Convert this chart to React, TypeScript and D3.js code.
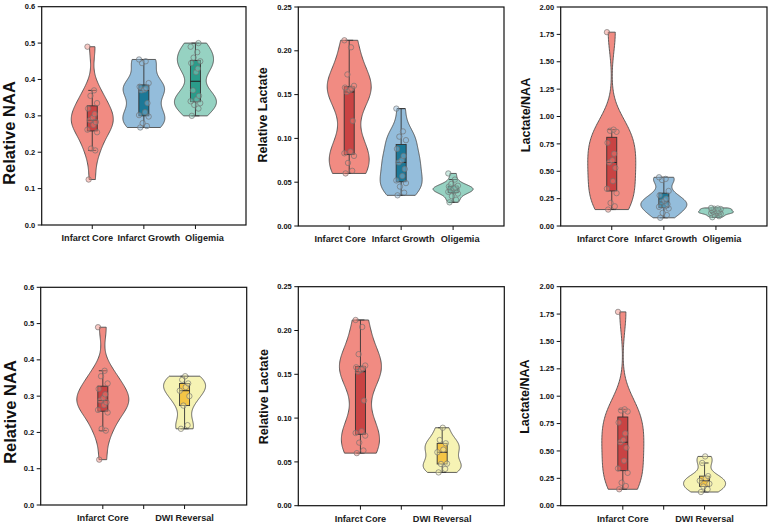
import React from 'react';
import * as d3 from 'd3';

// ---------- data ----------
const CATS_TOP = ['Infarct Core', 'Infarct Growth', 'Oligemia'];
const CATS_BOTTOM = ['Infarct Core', 'DWI Reversal'];

const NAA_CORE = [0.125, 0.205, 0.21, 0.255, 0.262, 0.275, 0.283, 0.288, 0.295, 0.305, 0.32, 0.335, 0.355, 0.37, 0.49];
const NAA_GROWTH = [0.268, 0.272, 0.28, 0.298, 0.302, 0.31, 0.335, 0.37, 0.372, 0.376, 0.38, 0.39, 0.445, 0.45, 0.455];
const NAA_OLIGEMIA = [0.3, 0.32, 0.33, 0.335, 0.34, 0.345, 0.355, 0.37, 0.42, 0.43, 0.445, 0.45, 0.46, 0.475, 0.49, 0.5];
const NAA_DWI = [0.21, 0.22, 0.274, 0.3, 0.315, 0.325, 0.335, 0.345, 0.355];

const LAC_CORE = [0.06, 0.063, 0.072, 0.08, 0.083, 0.085, 0.12, 0.153, 0.155, 0.157, 0.158, 0.16, 0.173, 0.204, 0.212];
const LAC_GROWTH = [0.035, 0.038, 0.045, 0.049, 0.052, 0.057, 0.065, 0.0726, 0.075, 0.08, 0.088, 0.098, 0.102, 0.108, 0.134];
const LAC_OLIGEMIA = [0.027, 0.03, 0.034, 0.037, 0.039, 0.04, 0.041, 0.041, 0.043, 0.044, 0.045, 0.046, 0.048, 0.053, 0.06];
const LAC_DWI = [0.038, 0.042, 0.0476, 0.048, 0.061, 0.064, 0.0712, 0.075, 0.089];

const RATIO_CORE = [0.15, 0.18, 0.21, 0.3, 0.34, 0.41, 0.53, 0.58, 0.6, 0.66, 0.76, 0.86, 0.87, 0.88, 1.77];
const RATIO_GROWTH = [0.075, 0.1, 0.12, 0.16, 0.175, 0.18, 0.2, 0.22, 0.23, 0.25, 0.28, 0.32, 0.42, 0.43, 0.445];
const RATIO_OLIGEMIA = [0.08, 0.09, 0.1, 0.112, 0.118, 0.12, 0.125, 0.13, 0.135, 0.14, 0.145, 0.155, 0.158, 0.16, 0.165];
const RATIO_DWI = [0.125, 0.15, 0.175, 0.2, 0.228, 0.25, 0.27, 0.39, 0.45];

const NAA_TICKS = [0, 0.1, 0.2, 0.3, 0.4, 0.5, 0.6];
const LAC_TICKS = [0, 0.05, 0.1, 0.15, 0.2, 0.25];
const RATIO_TICKS = [0, 0.25, 0.5, 0.75, 1.0, 1.25, 1.5, 1.75, 2.0];

// ---------- styles ----------
const COLORS: Record<string, { violin: string; box: string }> = {
  'Infarct Core': { violin: '#F0857B', box: '#C94343' },
  'Infarct Growth': { violin: '#8EB9D9', box: '#1C7897' },
  'Oligemia': { violin: '#90D0BF', box: '#2A9C8A' },
  'DWI Reversal': { violin: '#F6F2B0', box: '#F4C545' },
};
const JITTER = [-3, 2.5, -1, 4, -4, 1, 3, -2, 0.5, 2, -3.5, 4, -1.5, 1.5, -4, 2.5];
const BW_ADJUST = 0.75;
const FONT = "'Liberation Sans', Arial, Helvetica, sans-serif";

type Box = { l: number; r: number; t: number; b: number };
type PanelDef = {
  box: Box;
  cats: string[];
  series: number[][];
  halfWidths: number[];
  labelDx: number[];
  ticks: number[];
  fmt: string;
  label: string;
  labelX: number;
  labelY: number;
  labelSize: number;
  xDomain: [number, number];
  xTicks: number[];
};

function Violin({ values, cx, y, hw, color }: { values: number[]; cx: number; y: d3.ScaleLinear<number, number>; hw: number; color: { violin: string; box: string } }) {
  const sorted = [...values].sort((a, b) => a - b);
  const lo = sorted[0];
  const hi = sorted[sorted.length - 1];
  const sd = d3.deviation(sorted) as number;
  const bw = sd * Math.pow(sorted.length, -0.2) * BW_ADJUST;
  const grid = d3.range(0, 121).map((k) => lo + ((hi - lo) * k) / 120);
  const dens = grid.map((g) => d3.sum(sorted, (v) => Math.exp(-0.5 * ((g - v) / bw) ** 2)));
  const maxD = d3.max(dens) as number;
  const pts: [number, number][] = grid.map((g, i) => [g, dens[i] / maxD]);
  const area = d3
    .area<[number, number]>()
    .x0((d) => cx - d[1] * hw)
    .x1((d) => cx + d[1] * hw)
    .y((d) => y(d[0]))
    .curve(d3.curveLinear);

  const q1 = d3.quantile(sorted, 0.25) as number;
  const med = d3.quantile(sorted, 0.5) as number;
  const q3 = d3.quantile(sorted, 0.75) as number;
  const iqr = q3 - q1;
  const wLo = d3.min(sorted.filter((v) => v >= q1 - 1.5 * iqr)) as number;
  const wHi = d3.max(sorted.filter((v) => v <= q3 + 1.5 * iqr)) as number;
  const bwPx = 10;
  const cap = 4;

  return (
    <g>
      <path d={area(pts) || ''} fill={color.violin} fillOpacity={0.95} stroke="#4d4d4d" strokeWidth={0.9} />
      <line x1={cx} x2={cx} y1={y(wLo)} y2={y(wHi)} stroke="#333" strokeWidth={0.9} />
      <line x1={cx - cap} x2={cx + cap} y1={y(wLo)} y2={y(wLo)} stroke="#333" strokeWidth={0.9} />
      <line x1={cx - cap} x2={cx + cap} y1={y(wHi)} y2={y(wHi)} stroke="#333" strokeWidth={0.9} />
      <rect x={cx - bwPx / 2} y={y(q3)} width={bwPx} height={y(q1) - y(q3)} fill={color.box} stroke="#333" strokeWidth={0.9} />
      <line x1={cx - bwPx / 2} x2={cx + bwPx / 2} y1={y(med)} y2={y(med)} stroke="#222" strokeWidth={1} />
      {sorted.map((v, i) => (
        <circle
          key={i}
          cx={cx + JITTER[i % JITTER.length] * 1.2}
          cy={y(v)}
          r={2.7}
          fill={color.violin}
          fillOpacity={0.45}
          stroke="#6f6f6f"
          strokeOpacity={0.8}
          strokeWidth={0.8}
        />
      ))}
    </g>
  );
}

function Panel({ p }: { p: PanelDef }) {
  const { box } = p;
  const y = d3.scaleLinear().domain([p.ticks[0], p.ticks[p.ticks.length - 1]]).range([box.b, box.t]);
  const x = d3.scaleLinear().domain(p.xDomain).range([box.l, box.r]);
  const f = d3.format(p.fmt);
  return (
    <g>
      {p.series.map((vals, i) => (
        <Violin key={i} values={vals} cx={x(i + 1)} y={y} hw={p.halfWidths[i]} color={COLORS[p.cats[i]]} />
      ))}
      <rect x={box.l} y={box.t} width={box.r - box.l} height={box.b - box.t} fill="none" stroke="#111" strokeWidth={1.2} />
      {p.ticks.map((t) => (
        <g key={t}>
          <line x1={box.l - 4} x2={box.l} y1={y(t)} y2={y(t)} stroke="#111" strokeWidth={1} />
          <text x={box.l - 6.5} y={y(t)} dy="0.35em" textAnchor="end" fontSize={7.5} fontWeight="bold" fill="#111">
            {f(t)}
          </text>
        </g>
      ))}
      {p.xTicks.map((t) => (
        <line key={t} x1={x(t)} x2={x(t)} y1={box.b} y2={box.b + 4} stroke="#111" strokeWidth={1} />
      ))}
      {p.cats.map((c, i) => (
        <text key={c} x={x(i + 1) + p.labelDx[i]} y={box.b + 16.2} textAnchor="middle" fontSize={9.2} fontWeight="bold" fill="#222">
          {c}
        </text>
      ))}
      <text
        transform={`translate(${p.labelX},${p.labelY}) rotate(-90)`}
        textAnchor="middle"
        dy="0.35em"
        fontSize={p.labelSize}
        fontWeight="bold"
        fill="#111"
      >
        {p.label}
      </text>
    </g>
  );
}

export default function App() {
  const topX: [number, number] = [0.02, 3.98];
  const botX: [number, number] = [0.24, 2.76];
  const panels: PanelDef[] = [
    {
      box: { l: 41.7, r: 246, t: 6.7, b: 225 },
      cats: CATS_TOP,
      series: [NAA_CORE, NAA_GROWTH, NAA_OLIGEMIA],
      halfWidths: [21, 21, 21],
      labelDx: [-5, 5, 9],
      ticks: NAA_TICKS,
      fmt: '.1f',
      label: 'Relative NAA',
      labelX: 9.5,
      labelY: 133,
      labelSize: 16.5,
      xDomain: topX,
      xTicks: [1, 2, 3],
    },
    {
      box: { l: 298.3, r: 504, t: 7, b: 226 },
      cats: CATS_TOP,
      series: [LAC_CORE, LAC_GROWTH, LAC_OLIGEMIA],
      halfWidths: [22, 21, 20],
      labelDx: [-9, 2, 7],
      ticks: LAC_TICKS,
      fmt: '.2f',
      label: 'Relative Lactate',
      labelX: 262.7,
      labelY: 115,
      labelSize: 12.5,
      xDomain: topX,
      xTicks: [1, 2, 3],
    },
    {
      box: { l: 560.7, r: 767, t: 7, b: 226 },
      cats: CATS_TOP,
      series: [RATIO_CORE, RATIO_GROWTH, RATIO_OLIGEMIA],
      halfWidths: [24, 23, 17.5],
      labelDx: [-9, 2, 6],
      ticks: RATIO_TICKS,
      fmt: '.2f',
      label: 'Lactate/NAA',
      labelX: 525.3,
      labelY: 115,
      labelSize: 12.5,
      xDomain: topX,
      xTicks: [1, 2, 3],
    },
    {
      box: { l: 40.7, r: 246.7, t: 287.3, b: 505 },
      cats: CATS_BOTTOM,
      series: [NAA_CORE, NAA_DWI],
      halfWidths: [26, 21],
      labelDx: [0, 0],
      ticks: NAA_TICKS,
      fmt: '.1f',
      label: 'Relative NAA',
      labelX: 10,
      labelY: 412,
      labelSize: 16.5,
      xDomain: botX,
      xTicks: [1, 1.5, 2],
    },
    {
      box: { l: 298.3, r: 504.3, t: 286.7, b: 505.7 },
      cats: CATS_BOTTOM,
      series: [LAC_CORE, LAC_DWI],
      halfWidths: [21, 19],
      labelDx: [0, 0],
      ticks: LAC_TICKS,
      fmt: '.2f',
      label: 'Relative Lactate',
      labelX: 263.7,
      labelY: 396.7,
      labelSize: 12.5,
      xDomain: botX,
      xTicks: [1, 1.5, 2],
    },
    {
      box: { l: 560.7, r: 766.7, t: 286.7, b: 505.7 },
      cats: CATS_BOTTOM,
      series: [RATIO_CORE, RATIO_DWI],
      halfWidths: [21, 21],
      labelDx: [0, 0],
      ticks: RATIO_TICKS,
      fmt: '.2f',
      label: 'Lactate/NAA',
      labelX: 525,
      labelY: 396.7,
      labelSize: 12.5,
      xDomain: botX,
      xTicks: [1, 1.5, 2],
    },
  ];
  return (
    <svg
      width={770}
      height={524}
      style={{ position: 'absolute', left: 0, top: 0, background: '#fff' }}
      fontFamily={FONT}
    >
      <rect x={0} y={0} width={770} height={524} fill="#fff" />
      {panels.map((p, i) => (
        <Panel key={i} p={p} />
      ))}
    </svg>
  );
}
